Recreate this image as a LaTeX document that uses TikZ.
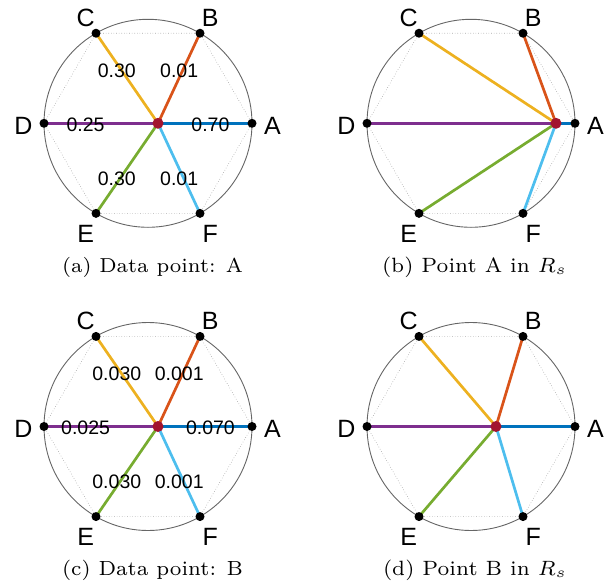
\documentclass[tikz,border=0pt]{standalone}
\usepackage{fontspec}
\usepackage{graphicx}
\usetikzlibrary{calc}
\newfontfamily\arialf{Liberation Sans}
\definecolor{cA}{rgb}{0,0.447,0.741}
\definecolor{cB}{rgb}{0.850,0.325,0.098}
\definecolor{cC}{rgb}{0.929,0.694,0.125}
\definecolor{cD}{rgb}{0.494,0.184,0.556}
\definecolor{cE}{rgb}{0.466,0.674,0.188}
\definecolor{cF}{rgb}{0.301,0.745,0.933}
\definecolor{pred}{rgb}{0.635,0.078,0.184}
\definecolor{ringgray}{gray}{0.4}
\definecolor{hexgray}{gray}{0.65}
\tikzset{
 ring/.style={draw=ringgray, line width=0.9pt},
 hexline/.style={draw=hexgray, line width=0.6pt, dotted},
 spoke/.style={line width=2.7pt},
 vdot/.style={circle, fill=black, inner sep=0pt, minimum size=9pt},
 pdot/.style={circle, fill=pred, inner sep=0pt, minimum size=11pt},
 vlab/.style={font=\arialf\fontsize{25}{25}\selectfont, inner sep=0pt},
 wlab/.style={font=\arialf\fontsize{19.5}{19.5}\selectfont, inner sep=0pt},
 capt/.style={anchor=base west, inner sep=0pt, outer sep=0pt},
}
\newcommand\captxt[2]{\resizebox{#1pt}{!}{\fontsize{7}{8}\selectfont #2}}
\newcommand\hexpanel[4]{%
 \begin{scope}[shift={(#2,#3)}]
  \coordinate (#1O) at (0,0);
  \draw[ring] (#1O) circle (104pt);
  \foreach \n/\a in {A/0,B/-60,C/-120,D/180,E/120,F/60}{\coordinate (#1\n) at (\a:104);}
  \draw[hexline] (#1A) -- (#1B) -- (#1C) -- (#1D) -- (#1E) -- (#1F) -- cycle;
  \coordinate (#1P) at (#4,0);
  \foreach \n in {A,B,C,D,E,F}{\draw[spoke, draw=c\n] (#1P) -- (#1\n);}
  \foreach \n in {A,B,C,D,E,F}{\node[vdot] (#1\n dot) at (#1\n) {};}
  \node[pdot] (#1Pdot) at (#1P) {};
  \foreach \n/\a in {A/0,B/-60,C/-120,D/180,E/120,F/60}{\node[vlab] (#1\n lab) at ($(\a:124.5)+(0,2.5)$) {\n};}
 \end{scope}}
\newcommand\weights[9]{%
 \begin{scope}[shift={(#2,#3)}]
  \node[wlab] (#1wA) at ($(0:62.4)+(0,1.5)$) {#4};
  \node[wlab] (#1wB) at ($(-60:62.4)+(0,1.5)$) {#5};
  \node[wlab] (#1wC) at ($(-120:62.4)+(0,1.5)$) {#6};
  \node[wlab] (#1wD) at ($(180:62.4)+(0,1.5)$) {#7};
  \node[wlab] (#1wE) at ($(120:62.4)+(0,1.5)$) {#8};
  \node[wlab] (#1wF) at ($(60:62.4)+(0,1.5)$) {#9};
 \end{scope}}
\begin{document}
\begin{tikzpicture}[x=1pt,y=-1pt]
\useasboundingbox (0,0) rectangle (610,583);
\hexpanel{a}{148}{123.3}{10}
\weights{a}{148}{123.3}{0.70}{0.01}{0.30}{0.25}{0.30}{0.01}
\node[capt] (capa) at (62,272) {\captxt{181}{(a) Data point: A}};
\hexpanel{b}{471}{123.3}{85}
\node[capt] (capb) at (382,272) {\captxt{185}{(b) Point A in $R_s$}};
\hexpanel{c}{148}{426.5}{10}
\weights{c}{148}{426.5}{0.070}{0.001}{0.030}{0.025}{0.030}{0.001}
\node[capt] (capc) at (62,575) {\captxt{181}{(c) Data point: B}};
\hexpanel{d}{471}{426.5}{25}
\node[capt] (capd) at (383,575) {\captxt{184}{(d) Point B in $R_s$}};
\end{tikzpicture}
\end{document}
